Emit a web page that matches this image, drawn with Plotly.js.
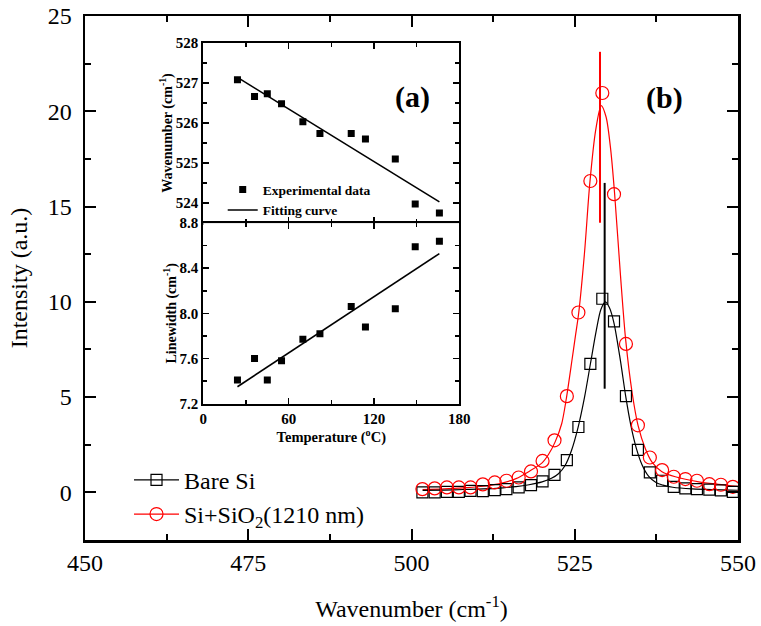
<!DOCTYPE html>
<html><head><meta charset="utf-8">
<script src="https://cdn.plot.ly/plotly-3.0.1.min.js"></script>
<style>html,body{margin:0;padding:0;background:#fff}#chart{width:761px;height:626px}</style>
</head><body><div id="chart"></div>
<script>
// ---- main spectra (b) ----
const wavenumber = [501.67, 503.55, 505.42, 507.25, 509.04, 510.92, 512.75, 514.53, 516.41, 518.30, 520.07, 521.90, 523.79, 525.56, 527.39, 529.22, 531.01, 532.84, 534.67, 536.50, 538.38, 540.16, 541.94, 543.71, 545.61, 547.38, 549.21];
const bareSi = [0.00, 0.00, 0.03, 0.03, 0.08, 0.07, 0.12, 0.17, 0.26, 0.38, 0.58, 0.92, 1.69, 3.43, 6.74, 10.16, 8.97, 5.05, 2.23, 1.05, 0.61, 0.29, 0.21, 0.17, 0.14, 0.10, 0.03];
const siSiO2 = [0.17, 0.21, 0.26, 0.26, 0.26, 0.42, 0.52, 0.61, 0.78, 1.10, 1.65, 2.73, 5.05, 9.44, 16.34, 20.96, 15.65, 7.79, 3.52, 1.83, 1.17, 0.82, 0.70, 0.61, 0.43, 0.40, 0.29];

const bareFitX = [501.7, 505, 508, 511, 514, 516, 518, 520, 521.5, 522.5, 523.5, 524.5, 525.5, 526.5, 527.4, 528.3, 529, 529.7, 530.3, 531, 532, 532.8, 533.6, 534.4, 535.3, 536.3, 537.5, 538.5, 540, 543, 546, 550];
const bareFitY = [0.10, 0.12, 0.15, 0.18, 0.24, 0.30, 0.40, 0.55, 0.75, 0.98, 1.40, 2.20, 3.40, 5.00, 6.75, 8.50, 9.60, 10.00, 9.70, 8.90, 6.90, 5.05, 3.50, 2.35, 1.45, 0.85, 0.50, 0.38, 0.27, 0.18, 0.14, 0.11];
const oxideFitX = [501.7, 505, 508, 511, 514, 516, 518, 520, 521, 522, 523, 523.7, 524.6, 525.1, 525.6, 526.5, 527.3, 528.2, 529.05, 529.8, 530.5, 531.1, 532, 532.8, 533.8, 534.7, 535.8, 536.8, 538.3, 540.4, 544, 547, 550];
const oxideFitY = [0.14, 0.18, 0.24, 0.32, 0.50, 0.72, 1.10, 1.55, 2.00, 2.65, 3.60, 4.90, 7.00, 8.20, 9.40, 12.60, 16.20, 19.00, 20.30, 19.70, 18.00, 15.70, 11.40, 8.00, 5.20, 3.50, 2.30, 1.60, 1.10, 0.82, 0.55, 0.42, 0.31];

const barePeakX = [529.58, 529.58];
const barePeakY = [5.44, 16.24];
const oxidePeakX = [528.87, 528.87];
const oxidePeakY = [14.15, 23.12];

// ---- inset (a) ----
const temperature = [24, 36, 45, 55, 70, 82, 104, 114, 135, 149, 166];
const peakPosition = [527.08, 526.66, 526.73, 526.48, 526.03, 525.74, 525.74, 525.60, 525.10, 523.98, 523.75];
const linewidth = [7.41, 7.60, 7.41, 7.58, 7.77, 7.82, 8.06, 7.88, 8.04, 8.59, 8.64];
const fitTemperature = [24, 166];
const peakPositionFit = [527.14, 524.03];
const linewidthFit = [7.35, 8.53];

const mainTicks = [450, 475, 500, 525, 550];
const intensityTicks = [0, 5, 10, 15, 20, 25];

const SERIF = 'Liberation Serif';
const RED = '#ff0000';

const traces = [
  {x: oxideFitX, y: oxideFitY, mode: 'lines', line: {color: RED, width: 1.2, shape: 'spline', smoothing: 0.8}, showlegend: false, xaxis: 'x', yaxis: 'y'},
  {x: bareFitX, y: bareFitY, mode: 'lines', line: {color: '#000', width: 1.2, shape: 'spline', smoothing: 0.8}, showlegend: false, xaxis: 'x', yaxis: 'y'},
  {x: wavenumber, y: bareSi, mode: 'markers', marker: {symbol: 'square-open', size: 11, color: '#000', line: {width: 1.2}}, showlegend: false},
  {x: wavenumber, y: siSiO2, mode: 'markers', marker: {symbol: 'circle-open', size: 13, color: RED, line: {width: 1.2}}, showlegend: false},
  {x: oxidePeakX, y: oxidePeakY, mode: 'lines', line: {color: RED, width: 2}, showlegend: false},
  {x: barePeakX, y: barePeakY, mode: 'lines', line: {color: '#000', width: 2}, showlegend: false},
  // legend entries
  {x: [null], y: [null], name: 'Bare Si', mode: 'lines+markers', line: {color: '#000', width: 1.2}, marker: {symbol: 'square-open', size: 11, color: '#000', line: {width: 1.2}}, legend: 'legend'},
  {x: [null], y: [null], name: 'Si+SiO<sub>2</sub>(1210 nm)', mode: 'lines+markers', line: {color: RED, width: 1.2}, marker: {symbol: 'circle-open', size: 13, color: RED, line: {width: 1.2}}, legend: 'legend'},
  // inset upper
  {x: temperature, y: peakPosition, mode: 'markers', name: 'Experimental data', marker: {symbol: 'square', size: 7, color: '#000'}, xaxis: 'x2', yaxis: 'y2', legend: 'legend2'},
  {x: fitTemperature, y: peakPositionFit, mode: 'lines', name: 'Fitting curve', line: {color: '#000', width: 1.6}, xaxis: 'x2', yaxis: 'y2', legend: 'legend2'},
  // inset lower
  {x: temperature, y: linewidth, mode: 'markers', marker: {symbol: 'square', size: 7, color: '#000'}, xaxis: 'x3', yaxis: 'y3', showlegend: false},
  {x: fitTemperature, y: linewidthFit, mode: 'lines', line: {color: '#000', width: 1.6}, xaxis: 'x3', yaxis: 'y3', showlegend: false}
];

const mainAxis = {
  showline: true, linewidth: 2.5, linecolor: '#000', mirror: 'ticks',
  ticks: 'inside', ticklen: 11, tickwidth: 2, tickcolor: '#000',
  showgrid: false, zeroline: false,
  tickfont: {family: SERIF, size: 24, color: '#000'}
};
const insetAxis = {
  showline: true, linewidth: 2, linecolor: '#000', mirror: 'ticks',
  ticks: 'inside', ticklen: 6, tickwidth: 1.5, tickcolor: '#000',
  showgrid: false, zeroline: false,
  tickfont: {family: SERIF, size: 15, color: '#000', weight: 'bold'}
};

const layout = {
  width: 761, height: 626,
  margin: {l: 85, r: 23, t: 16, b: 85.5},
  paper_bgcolor: '#fff', plot_bgcolor: '#fff',
  font: {family: SERIF, color: '#000'},
  xaxis: Object.assign({}, mainAxis, {
    range: [450, 550], tickvals: mainTicks, ticktext: mainTicks.map(String),
    ticklabelstandoff: 0,
    minor: {dtick: 12.5, tick0: 450, ticks: 'inside', ticklen: 6, tickwidth: 2, tickcolor: '#000'},
    title: {text: 'Wavenumber (cm<sup>-1</sup>)', font: {family: SERIF, size: 24, color: '#000'}, standoff: 25}
  }),
  yaxis: Object.assign({}, mainAxis, {
    range: [-2.5, 25], tickvals: intensityTicks, ticktext: intensityTicks.map(String),
    ticklabelstandoff: 6,
    minor: {dtick: 2.5, tick0: 0, ticks: 'inside', ticklen: 6, tickwidth: 2, tickcolor: '#000'},
    title: {text: 'Intensity (a.u.)', font: {family: SERIF, size: 24, color: '#000'}, standoff: 14}
  }),
  xaxis2: Object.assign({}, insetAxis, {
    domain: [0.1812, 0.5732], anchor: 'y2', range: [0, 180], dtick: 60, showticklabels: false,
    minor: {dtick: 30, ticks: 'inside', ticklen: 4, tickwidth: 1.5, tickcolor: '#000'}
  }),
  yaxis2: Object.assign({}, insetAxis, {
    domain: [0.6048, 0.9485], anchor: 'x2', range: [523.5, 528], tickvals: [524, 525, 526, 527, 528],
    minor: {dtick: 0.5, tick0: 523.5, ticks: 'inside', ticklen: 4, tickwidth: 1.5, tickcolor: '#000'},
    title: {text: 'Wavenumber (cm<sup>-1</sup>)', font: {family: SERIF, size: 14, color: '#000', weight: 'bold'}, standoff: 0}
  }),
  xaxis3: Object.assign({}, insetAxis, {
    domain: [0.1812, 0.5732], anchor: 'y3', range: [0, 180], tickvals: [0, 60, 120, 180],
    minor: {dtick: 30, ticks: 'inside', ticklen: 4, tickwidth: 1.5, tickcolor: '#000'},
    title: {text: 'Temperature (<sup>o</sup>C)', font: {family: SERIF, size: 14.5, color: '#000', weight: 'bold'}, standoff: 0}
  }),
  yaxis3: Object.assign({}, insetAxis, {
    domain: [0.2602, 0.6048], anchor: 'x3', range: [7.2, 8.8], tickvals: [7.2, 7.6, 8.0, 8.4, 8.8], ticktext: ['7.2', '7.6', '8.0', '8.4', '8.8'],
    minor: {dtick: 0.2, tick0: 7.2, ticks: 'inside', ticklen: 4, tickwidth: 1.5, tickcolor: '#000'},
    title: {text: 'Linewidth (cm<sup>-1</sup>)', font: {family: SERIF, size: 14, color: '#000', weight: 'bold'}, standoff: 0}
  }),
  legend: {
    x: 0.0674, y: 0.157, xanchor: 'left', yanchor: 'top', bgcolor: 'rgba(0,0,0,0)',
    itemwidth: 45, font: {family: SERIF, size: 24, color: '#000'}
  },
  legend2: {
    x: 0.2109, y: 0.698, xanchor: 'left', yanchor: 'top', bgcolor: 'rgba(0,0,0,0)',
    font: {family: SERIF, size: 13.5, color: '#000', weight: 'bold'}
  },
  annotations: [
    {text: '(a)', xref: 'x2', yref: 'y2', x: 147.4, y: 526.65, showarrow: false, font: {family: SERIF, size: 30, color: '#000', weight: 'bold'}},
    {text: '(b)', xref: 'x', yref: 'y', x: 538.8, y: 20.7, showarrow: false, font: {family: SERIF, size: 30, color: '#000', weight: 'bold'}}
  ]
};

Plotly.newPlot('chart', traces, layout, {staticPlot: true, displayModeBar: false});
</script>
</body></html>
